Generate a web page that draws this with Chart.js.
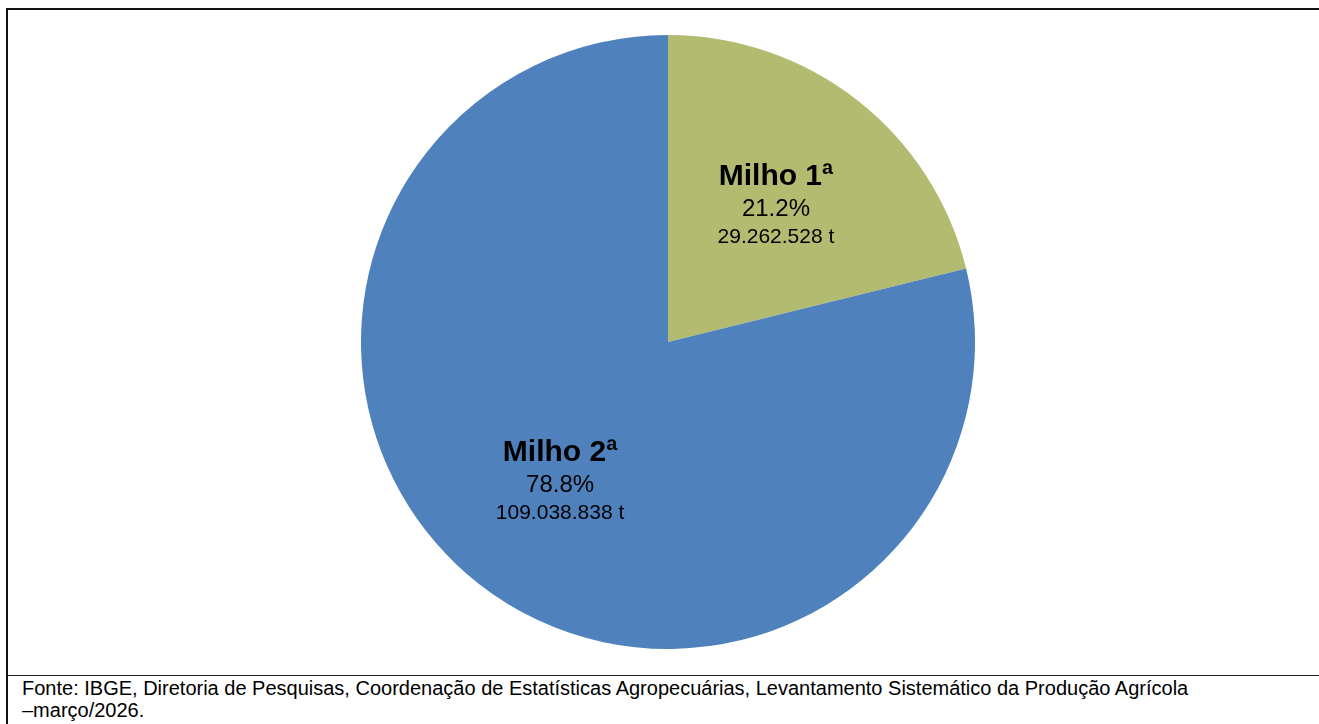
<!DOCTYPE html>
<html lang="pt-BR">
<head>
<meta charset="utf-8">
<title>Milho 1ª e 2ª safra</title>
<script src="https://cdn.jsdelivr.net/npm/chart.js@4/dist/chart.umd.min.js"></script>
<style>
    html, body { margin: 0; padding: 0; background: #fff; }
    body { width: 1319px; height: 724px; position: relative; overflow: hidden;
           font-family: "Liberation Sans", Arial, sans-serif; }
    #frame {
        position: absolute; left: 6px; top: 8px; width: 1313px; height: 665px;
        border-top: 2px solid #111; border-left: 2px solid #111; border-bottom: 1px solid #222;
    }
    #frame canvas { position: absolute; left: 0; top: 0; }
    #footer {
        position: absolute; left: 6px; top: 676px; width: 1311px; height: 48px;
        border-left: 2px solid #111;
        font-size: 20px; line-height: 22px; color: #000;
        padding: 1px 0 0 14px; box-sizing: border-box; white-space: nowrap;
    }
</style>
</head>
<body>
<div id="frame"><canvas id="pieChart" width="1311" height="665"></canvas></div>
<div id="footer">Fonte: IBGE, Diretoria de Pesquisas, Coordenação de Estatísticas Agropecuárias, Levantamento Sistemático da Produção Agrícola<br>–março/2026.</div>

<script>
//  Produção de milho por safra (toneladas)
const safras    = ['Milho 1ª', 'Milho 2ª'];
const toneladas = [29262528, 109038838];
const cores     = ['#B3BB71', '#4F81BD'];

const total = toneladas.reduce((a, b) => a + b, 0);

// 29262528 -> "29.262.528"
function formatTon(n) {
    return String(n).replace(/\B(?=(\d{3})+(?!\d))/g, '.');
}

// Rótulos dentro das fatias: nome, percentual e toneladas
const sliceLabels = {
    id: 'sliceLabels',
    afterDatasetsDraw(chart) {
        const ctx  = chart.ctx;
        const meta = chart.getDatasetMeta(0);
        meta.data.forEach((arc, i) => {
            const p   = arc.getProps(['x', 'y', 'startAngle', 'endAngle', 'outerRadius'], true);
            const mid = (p.startAngle + p.endAngle) / 2;
            const r   = p.outerRadius * 0.57;
            const cx  = p.x + Math.cos(mid) * r;
            const cy  = p.y + Math.sin(mid) * r;
            const pct = (toneladas[i] / total * 100).toFixed(1) + '%';

            ctx.save();
            ctx.fillStyle = '#000';
            ctx.textAlign = 'center';
            ctx.textBaseline = 'alphabetic';
            ctx.font = 'bold 30px "Liberation Sans", Arial, sans-serif';
            ctx.fillText(safras[i], cx, cy - 19);
            ctx.font = '24px "Liberation Sans", Arial, sans-serif';
            ctx.fillText(pct, cx, cy + 12);
            ctx.font = '21px "Liberation Sans", Arial, sans-serif';
            ctx.fillText(formatTon(toneladas[i]) + ' t', cx, cy + 39);
            ctx.restore();
        });
    }
};

const ctxPie = document.getElementById('pieChart').getContext('2d');
new Chart(ctxPie, {
    type: 'pie',
    data: {
        labels: safras,
        datasets: [{
            data: toneladas,
            backgroundColor: cores,
            borderWidth: 0
        }]
    },
    options: {
        responsive: false,
        animation: false,
        layout: { padding: { top: 25, bottom: 26, left: 10, right: 1 } },
        plugins: {
            legend: { display: false },
            tooltip: { enabled: false }
        }
    },
    plugins: [sliceLabels]
});
</script>
</body>
</html>
